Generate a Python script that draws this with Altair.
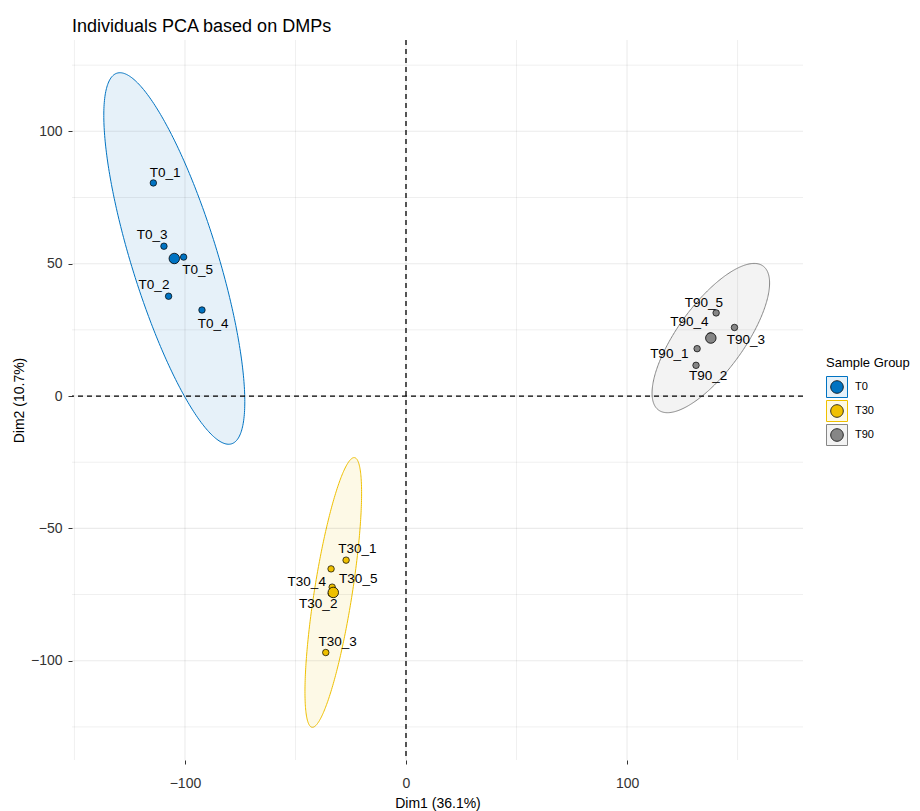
import altair as alt
import numpy as np
import pandas as pd

FONT = "Liberation Sans"

groups = ["T0", "T30", "T90"]
group_colors = ["#0073C2", "#EFC000", "#868686"]
group_fills = ["#E6F1F9", "#FDF9E6", "#F3F3F3"]

sample_names = ["T0_1", "T0_2", "T0_3", "T0_4", "T0_5",
                "T30_1", "T30_2", "T30_3", "T30_4", "T30_5",
                "T90_1", "T90_2", "T90_3", "T90_4", "T90_5"]
sample_group = ["T0"] * 5 + ["T30"] * 5 + ["T90"] * 5
dim1 = [-114.3, -107.4, -109.5, -92.3, -100.6,
        -27.1, -33.8, -36.3, -33.9, -33.4,
        131.7, 131.2, 148.6, 137.7, 140.3]
dim2 = [80.5, 37.7, 56.6, 32.5, 52.5,
        -62.0, -74.6, -96.9, -65.3, -72.2,
        17.9, 11.6, 25.9, 22.7, 31.4]
label_x = [-109.0, -114.0, -114.8, -87.2, -94.3,
           -22.0, -39.7, -30.9, -44.9, -21.6,
           119.1, 136.7, 153.8, 128.2, 134.8]
label_y = [84.4, 41.8, 60.8, 27.4, 47.8,
           -57.9, -78.6, -92.8, -70.4, -69.2,
           15.7, 7.5, 21.1, 28.0, 35.2]

x_major = [-100, 0, 100]
x_minor = [-150, -50, 50, 150]
y_major = [-100, -50, 0, 50, 100]
y_minor = [-125, -75, -25, 25, 75, 125]

pts = pd.DataFrame({"name": sample_names, "grp": sample_group, "x": dim1, "y": dim2})
labs = pd.DataFrame({"name": sample_names, "lx": label_x, "ly": label_y})

# normal-theory 95% ellipse per group (as stat_ellipse type="norm")
rows = []
for g in groups:
    sub = pts[pts.grp == g]
    n = len(sub)
    xs, ys = sub.x.to_numpy(), sub.y.to_numpy()
    cx, cy = xs.mean(), ys.mean()
    cov = np.cov(np.vstack([xs, ys]))
    sxx, syy, sxy = cov[0, 0], cov[1, 1], cov[0, 1]
    d = n - 1
    qf = (d / 2.0) * ((0.05) ** (-2.0 / d) - 1.0)
    r2 = 2.0 * qf
    hw = np.sqrt(r2 * sxx)
    slope = sxy / sxx
    cond = syy - sxy ** 2 / sxx
    for t in np.linspace(np.pi, 0, 161):
        dx = hw * np.cos(t)
        k = np.sqrt(max(r2 - dx ** 2 / sxx, 0.0) * cond)
        rows.append({"group": g, "ex": cx + dx, "ehi": cy + slope * dx + k, "elo": cy + slope * dx - k})
ell = pd.DataFrame(rows)

xscale = alt.Scale(domain=[-151.1, 179.6], nice=False, zero=False)
yscale = alt.Scale(domain=[-137.5, 134.5], nice=False, zero=False)
xaxis = alt.Axis(values=x_major, title="Dim1 (36.1%)", grid=False, domain=False,
                 tickSize=4, tickColor="#333333", tickWidth=1,
                 labelFont=FONT, labelFontSize=14, labelColor="#333333", labelPadding=12,
                 titleFont=FONT, titleFontSize=14, titleFontWeight="normal", titleColor="#000000",
                 titlePadding=6)
yaxis = alt.Axis(values=y_major, title="Dim2 (10.7%)", grid=False, domain=False,
                 tickSize=4, tickColor="#333333", tickWidth=1,
                 labelFont=FONT, labelFontSize=14, labelColor="#333333", labelPadding=6,
                 titleFont=FONT, titleFontSize=14, titleFontWeight="normal", titleColor="#000000",
                 titlePadding=4)


def X(f):
    return alt.X(f, type="quantitative", scale=xscale, axis=xaxis)


def Y(f):
    return alt.Y(f, type="quantitative", scale=yscale, axis=yaxis)


legend_common = dict(orient="none", legendX=754, legendY=317,
                     symbolSize=441, titleFont=FONT, titleFontSize=13, titleFontWeight="normal",
                     titleColor="#000000", titlePadding=6, labelFont=FONT, labelFontSize=11,
                     labelColor="#000000", labelOffset=7, rowPadding=-2, padding=0)
square_path = "M -1 -1 L 1 -1 L 1 1 L -1 1 Z"
circle_path = "M -1 -1 M 1 1 M -0.6 0 A 0.6 0.6 0 1 0 0.6 0 A 0.6 0.6 0 1 0 -0.6 0 Z"
legA = alt.Legend(title="Sample Group", symbolType=square_path, symbolStrokeWidth=1, **legend_common)
legB = alt.Legend(title=" ", symbolType=circle_path, symbolStrokeColor="#000000", symbolStrokeWidth=0.8,
                  labelExpr="''", zindex=1, **legend_common)

areas = alt.Chart(ell).mark_area(strokeWidth=1, interpolate="linear", fillOpacity=1).encode(
    x=X("ex"), y=Y("ehi"), y2="elo",
    fill=alt.Fill("group:N", scale=alt.Scale(domain=groups, range=group_fills), legend=legA),
    stroke=alt.Stroke("group:N", scale=alt.Scale(domain=groups, range=group_colors), legend=legA),
)

vmaj = alt.Chart(pd.DataFrame({"v": x_major})).mark_rule(color="#000000", opacity=0.08, strokeWidth=1.1).encode(x=X("v"))
vmin = alt.Chart(pd.DataFrame({"v": x_minor})).mark_rule(color="#000000", opacity=0.07, strokeWidth=0.9).encode(x=X("v"))
hmaj = alt.Chart(pd.DataFrame({"v": y_major})).mark_rule(color="#000000", opacity=0.08, strokeWidth=1.1).encode(y=Y("v"))
hmin = alt.Chart(pd.DataFrame({"v": y_minor})).mark_rule(color="#000000", opacity=0.07, strokeWidth=0.9).encode(y=Y("v"))

zero = pd.DataFrame({"z": [0]})
vzero = alt.Chart(zero).mark_rule(color="#000000", strokeWidth=1.3, strokeDash=[5, 4]).encode(x=X("z"))
hzero = alt.Chart(zero).mark_rule(color="#000000", strokeWidth=1.3, strokeDash=[5, 4]).encode(y=Y("z"))

color_enc = alt.Color("grp:N", scale=alt.Scale(range=group_colors), legend=legB)

points = alt.Chart(pts).mark_point(filled=True, size=42, stroke="#000000", strokeWidth=0.7, opacity=1).encode(
    x=X("x"), y=Y("y"), color=color_enc)

centers = alt.Chart(pts).mark_point(filled=True, size=110, stroke="#000000", strokeWidth=0.8, opacity=1).encode(
    x=alt.X("mean(x)", type="quantitative", scale=xscale, axis=xaxis),
    y=alt.Y("mean(y)", type="quantitative", scale=yscale, axis=yaxis),
    color=color_enc)

texts = alt.Chart(labs).mark_text(font=FONT, fontSize=13.5, color="#000000", align="center", baseline="middle").encode(
    x=X("lx"), y=Y("ly"), text="name:N")

chart = alt.layer(areas, vmin, hmin, vmaj, hmaj, vzero, hzero, points, centers, texts).properties(
    width=731, height=720,
    title=alt.TitleParams("Individuals PCA based on DMPs", anchor="start", frame="group",
                          font=FONT, fontSize=18, fontWeight="normal", color="#000000", offset=3),
    padding={"left": 64, "top": 32, "right": 109, "bottom": 51},
    autosize=alt.AutoSizeParams(type="none"),
).configure_view(stroke="transparent")

chart.save("out.html", embed_options={"renderer": "svg", "actions": False})
